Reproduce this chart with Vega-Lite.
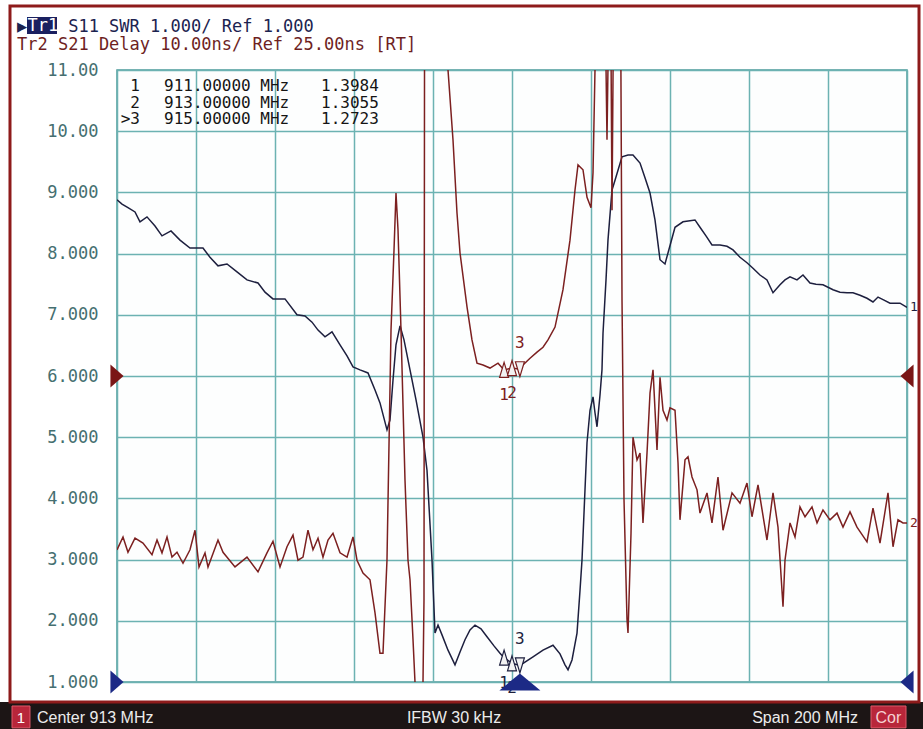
{
  "$schema": "https://vega.github.io/schema/vega-lite/v6.json",
  "width": 790,
  "height": 612,
  "autosize": {"type": "none"},
  "padding": {"left": 117, "top": 70, "right": 16, "bottom": 47},
  "background": "#ffffff",
  "config": {"view": {"stroke": "#4f9a9a", "strokeWidth": 1.5, "fill": "#fdfefe"}},
  "title": {
    "text": "▶\u00a0\u00a0\u00a0\u00a0S11 SWR 1.000/ Ref 1.000",
    "subtitle": "\u00a0Tr2 S21 Delay 10.00ns/ Ref 25.00ns [RT]",
    "anchor": "start", "frame": "group", "dx": -100, "offset": -50,
    "font": "DejaVu Sans Mono", "fontSize": 17, "fontWeight": "normal", "color": "#1c2350",
    "subtitleFont": "DejaVu Sans Mono", "subtitleFontSize": 17, "subtitleColor": "#6e1f1f", "subtitlePadding": 1
  },
  "datasets": {
    "traces": [
      {"trace":"1","freq":813.0,"value":8.88},{"trace":"1","freq":814.27,"value":8.81},{"trace":"1","freq":815.78,"value":8.75},{"trace":"1","freq":817.56,"value":8.68},{"trace":"1","freq":818.82,"value":8.52},{"trace":"1","freq":820.59,"value":8.60},{"trace":"1","freq":822.62,"value":8.45},{"trace":"1","freq":824.39,"value":8.29},{"trace":"1","freq":826.67,"value":8.37},{"trace":"1","freq":828.95,"value":8.22},{"trace":"1","freq":831.48,"value":8.09},{"trace":"1","freq":834.77,"value":8.09},{"trace":"1","freq":836.54,"value":7.94},{"trace":"1","freq":838.57,"value":7.80},{"trace":"1","freq":840.85,"value":7.83},{"trace":"1","freq":843.38,"value":7.70},{"trace":"1","freq":845.91,"value":7.57},{"trace":"1","freq":848.70,"value":7.52},{"trace":"1","freq":850.47,"value":7.37},{"trace":"1","freq":852.49,"value":7.26},{"trace":"1","freq":855.53,"value":7.26},{"trace":"1","freq":858.57,"value":7.00},{"trace":"1","freq":860.59,"value":6.98},{"trace":"1","freq":862.37,"value":6.88},{"trace":"1","freq":863.89,"value":6.75},{"trace":"1","freq":865.66,"value":6.64},{"trace":"1","freq":867.43,"value":6.72},{"trace":"1","freq":869.46,"value":6.51},{"trace":"1","freq":871.23,"value":6.33},{"trace":"1","freq":872.75,"value":6.15},{"trace":"1","freq":874.52,"value":6.10},{"trace":"1","freq":876.54,"value":6.05},{"trace":"1","freq":878.32,"value":5.77},{"trace":"1","freq":879.58,"value":5.56},{"trace":"1","freq":881.35,"value":5.12},{"trace":"1","freq":882.11,"value":5.28},{"trace":"1","freq":882.87,"value":5.93},{"trace":"1","freq":883.63,"value":6.51},{"trace":"1","freq":884.65,"value":6.82},{"trace":"1","freq":885.66,"value":6.59},{"trace":"1","freq":887.18,"value":6.10},{"trace":"1","freq":888.70,"value":5.61},{"trace":"1","freq":890.47,"value":5.00},{"trace":"1","freq":891.48,"value":4.46},{"trace":"1","freq":892.75,"value":2.99},{"trace":"1","freq":893.51,"value":1.80},{"trace":"1","freq":894.27,"value":1.93},{"trace":"1","freq":895.28,"value":1.77},{"trace":"1","freq":896.80,"value":1.52},{"trace":"1","freq":898.57,"value":1.28},{"trace":"1","freq":899.84,"value":1.49},{"trace":"1","freq":901.10,"value":1.69},{"trace":"1","freq":902.37,"value":1.85},{"trace":"1","freq":903.63,"value":1.93},{"trace":"1","freq":905.15,"value":1.87},{"trace":"1","freq":906.67,"value":1.74},{"trace":"1","freq":908.44,"value":1.59},{"trace":"1","freq":909.96,"value":1.47},{"trace":"1","freq":911.0,"value":1.398},{"trace":"1","freq":913.0,"value":1.306},{"trace":"1","freq":915.0,"value":1.272},{"trace":"1","freq":918.32,"value":1.41},{"trace":"1","freq":920.85,"value":1.52},{"trace":"1","freq":923.38,"value":1.60},{"trace":"1","freq":925.15,"value":1.46},{"trace":"1","freq":926.42,"value":1.28},{"trace":"1","freq":927.18,"value":1.20},{"trace":"1","freq":928.19,"value":1.36},{"trace":"1","freq":929.46,"value":1.80},{"trace":"1","freq":930.22,"value":2.50},{"trace":"1","freq":930.72,"value":2.99},{"trace":"1","freq":931.48,"value":4.14},{"trace":"1","freq":931.99,"value":4.91},{"trace":"1","freq":932.75,"value":5.44},{"trace":"1","freq":933.51,"value":5.66},{"trace":"1","freq":934.01,"value":5.40},{"trace":"1","freq":934.52,"value":5.17},{"trace":"1","freq":935.28,"value":5.69},{"trace":"1","freq":935.78,"value":6.10},{"trace":"1","freq":936.04,"value":6.70},{"trace":"1","freq":936.80,"value":7.57},{"trace":"1","freq":937.30,"value":8.22},{"trace":"1","freq":938.32,"value":9.04},{"trace":"1","freq":939.08,"value":9.20},{"trace":"1","freq":940.85,"value":9.58},{"trace":"1","freq":942.37,"value":9.61},{"trace":"1","freq":943.63,"value":9.61},{"trace":"1","freq":945.41,"value":9.48},{"trace":"1","freq":946.67,"value":9.24},{"trace":"1","freq":947.94,"value":8.99},{"trace":"1","freq":949.20,"value":8.55},{"trace":"1","freq":950.47,"value":7.90},{"trace":"1","freq":951.73,"value":7.83},{"trace":"1","freq":952.49,"value":8.01},{"trace":"1","freq":954.27,"value":8.43},{"trace":"1","freq":956.29,"value":8.52},{"trace":"1","freq":959.33,"value":8.55},{"trace":"1","freq":960.59,"value":8.43},{"trace":"1","freq":962.11,"value":8.29},{"trace":"1","freq":963.63,"value":8.14},{"trace":"1","freq":965.66,"value":8.14},{"trace":"1","freq":967.43,"value":8.12},{"trace":"1","freq":968.95,"value":8.06},{"trace":"1","freq":970.72,"value":7.94},{"trace":"1","freq":972.49,"value":7.85},{"trace":"1","freq":974.01,"value":7.76},{"trace":"1","freq":975.78,"value":7.65},{"trace":"1","freq":977.55,"value":7.57},{"trace":"1","freq":979.08,"value":7.36},{"trace":"1","freq":980.85,"value":7.49},{"trace":"1","freq":982.11,"value":7.57},{"trace":"1","freq":983.38,"value":7.62},{"trace":"1","freq":985.15,"value":7.57},{"trace":"1","freq":986.67,"value":7.65},{"trace":"1","freq":988.44,"value":7.52},{"trace":"1","freq":989.96,"value":7.50},{"trace":"1","freq":991.73,"value":7.49},{"trace":"1","freq":994.27,"value":7.41},{"trace":"1","freq":996.04,"value":7.37},{"trace":"1","freq":997.81,"value":7.36},{"trace":"1","freq":999.33,"value":7.36},{"trace":"1","freq":1001.10,"value":7.32},{"trace":"1","freq":1002.87,"value":7.27},{"trace":"1","freq":1004.39,"value":7.21},{"trace":"1","freq":1005.66,"value":7.29},{"trace":"1","freq":1007.18,"value":7.24},{"trace":"1","freq":1008.70,"value":7.19},{"trace":"1","freq":1011.23,"value":7.19},{"trace":"1","freq":1013.0,"value":7.12},
      {"trace":"2","freq":813.0,"value":3.16},{"trace":"2","freq":814.52,"value":3.37},{"trace":"2","freq":815.78,"value":3.12},{"trace":"2","freq":817.56,"value":3.35},{"trace":"2","freq":819.58,"value":3.27},{"trace":"2","freq":821.86,"value":3.08},{"trace":"2","freq":823.13,"value":3.32},{"trace":"2","freq":824.39,"value":3.11},{"trace":"2","freq":825.66,"value":3.37},{"trace":"2","freq":826.92,"value":3.04},{"trace":"2","freq":828.19,"value":3.12},{"trace":"2","freq":829.71,"value":2.94},{"trace":"2","freq":831.48,"value":3.16},{"trace":"2","freq":832.75,"value":3.48},{"trace":"2","freq":833.76,"value":2.88},{"trace":"2","freq":835.28,"value":3.11},{"trace":"2","freq":836.04,"value":2.88},{"trace":"2","freq":838.57,"value":3.32},{"trace":"2","freq":839.84,"value":3.12},{"trace":"2","freq":842.87,"value":2.88},{"trace":"2","freq":845.91,"value":3.04},{"trace":"2","freq":848.70,"value":2.80},{"trace":"2","freq":850.97,"value":3.11},{"trace":"2","freq":852.49,"value":3.30},{"trace":"2","freq":854.27,"value":2.88},{"trace":"2","freq":856.04,"value":3.21},{"trace":"2","freq":857.56,"value":3.40},{"trace":"2","freq":858.82,"value":2.99},{"trace":"2","freq":860.09,"value":3.04},{"trace":"2","freq":861.35,"value":3.48},{"trace":"2","freq":862.62,"value":3.16},{"trace":"2","freq":863.89,"value":3.35},{"trace":"2","freq":865.15,"value":3.04},{"trace":"2","freq":866.42,"value":3.32},{"trace":"2","freq":867.68,"value":3.43},{"trace":"2","freq":869.46,"value":3.11},{"trace":"2","freq":871.23,"value":3.04},{"trace":"2","freq":872.75,"value":3.37},{"trace":"2","freq":873.76,"value":2.99},{"trace":"2","freq":875.28,"value":2.78},{"trace":"2","freq":877.05,"value":2.67},{"trace":"2","freq":878.32,"value":2.13},{"trace":"2","freq":879.58,"value":1.47},{"trace":"2","freq":880.34,"value":1.47},{"trace":"2","freq":881.35,"value":2.99},{"trace":"2","freq":882.37,"value":6.75},{"trace":"2","freq":883.13,"value":8.06},{"trace":"2","freq":883.63,"value":8.99},{"trace":"2","freq":884.14,"value":8.39},{"trace":"2","freq":884.90,"value":6.75},{"trace":"2","freq":885.91,"value":4.30},{"trace":"2","freq":886.67,"value":2.99},{"trace":"2","freq":887.18,"value":2.67},{"trace":"2","freq":887.94,"value":1.69},{"trace":"2","freq":888.44,"value":1.00},{"trace":"2","freq":888.95,"value":0.40},{"trace":"2","freq":889.96,"value":0.40},{"trace":"2","freq":890.47,"value":1.00},{"trace":"2","freq":890.72,"value":2.34},{"trace":"2","freq":890.85,"value":11.0},{"trace":"2","freq":891.0,"value":12.0},{"trace":"2","freq":896.0,"value":12.0},{"trace":"2","freq":896.80,"value":11.0},{"trace":"2","freq":898.06,"value":9.86},{"trace":"2","freq":899.08,"value":8.66},{"trace":"2","freq":899.84,"value":8.01},{"trace":"2","freq":901.61,"value":7.13},{"trace":"2","freq":902.87,"value":6.59},{"trace":"2","freq":904.14,"value":6.21},{"trace":"2","freq":905.66,"value":6.18},{"trace":"2","freq":907.43,"value":6.13},{"trace":"2","freq":909.46,"value":6.21},{"trace":"2","freq":911.0,"value":6.10},{"trace":"2","freq":913.0,"value":6.13},{"trace":"2","freq":915.0,"value":6.11},{"trace":"2","freq":915.78,"value":6.18},{"trace":"2","freq":917.56,"value":6.29},{"trace":"2","freq":919.33,"value":6.39},{"trace":"2","freq":920.85,"value":6.47},{"trace":"2","freq":922.11,"value":6.59},{"trace":"2","freq":923.89,"value":6.80},{"trace":"2","freq":925.91,"value":7.41},{"trace":"2","freq":927.68,"value":8.22},{"trace":"2","freq":928.95,"value":9.04},{"trace":"2","freq":929.71,"value":9.45},{"trace":"2","freq":930.97,"value":9.37},{"trace":"2","freq":931.99,"value":8.92},{"trace":"2","freq":933.0,"value":8.75},{"trace":"2","freq":933.51,"value":9.32},{"trace":"2","freq":934.01,"value":11.0},{"trace":"2","freq":934.3,"value":12.0},{"trace":"2","freq":936.6,"value":12.0},{"trace":"2","freq":937.05,"value":9.86},{"trace":"2","freq":937.5,"value":12.0},{"trace":"2","freq":938.0,"value":12.0},{"trace":"2","freq":938.32,"value":8.71},{"trace":"2","freq":938.7,"value":12.0},{"trace":"2","freq":940.5,"value":12.0},{"trace":"2","freq":940.85,"value":7.24},{"trace":"2","freq":941.36,"value":3.97},{"trace":"2","freq":942.11,"value":2.03},{"trace":"2","freq":942.37,"value":1.80},{"trace":"2","freq":943.13,"value":3.43},{"trace":"2","freq":943.63,"value":5.00},{"trace":"2","freq":944.65,"value":4.63},{"trace":"2","freq":945.41,"value":4.74},{"trace":"2","freq":946.16,"value":3.60},{"trace":"2","freq":947.18,"value":4.74},{"trace":"2","freq":947.94,"value":5.72},{"trace":"2","freq":948.70,"value":6.10},{"trace":"2","freq":949.71,"value":4.79},{"trace":"2","freq":950.47,"value":5.98},{"trace":"2","freq":951.23,"value":5.44},{"trace":"2","freq":952.24,"value":5.28},{"trace":"2","freq":953.0,"value":5.48},{"trace":"2","freq":954.27,"value":5.44},{"trace":"2","freq":955.03,"value":4.58},{"trace":"2","freq":955.53,"value":3.65},{"trace":"2","freq":956.80,"value":4.63},{"trace":"2","freq":957.56,"value":4.68},{"trace":"2","freq":958.57,"value":4.35},{"trace":"2","freq":959.84,"value":4.14},{"trace":"2","freq":960.59,"value":3.76},{"trace":"2","freq":962.37,"value":4.09},{"trace":"2","freq":963.63,"value":3.60},{"trace":"2","freq":965.15,"value":4.35},{"trace":"2","freq":966.42,"value":3.48},{"trace":"2","freq":968.70,"value":4.09},{"trace":"2","freq":970.72,"value":3.92},{"trace":"2","freq":972.49,"value":4.25},{"trace":"2","freq":973.76,"value":3.70},{"trace":"2","freq":975.28,"value":4.22},{"trace":"2","freq":977.55,"value":3.32},{"trace":"2","freq":979.08,"value":4.09},{"trace":"2","freq":980.34,"value":3.53},{"trace":"2","freq":981.61,"value":2.23},{"trace":"2","freq":982.11,"value":2.99},{"trace":"2","freq":983.38,"value":3.60},{"trace":"2","freq":984.65,"value":3.37},{"trace":"2","freq":985.91,"value":3.86},{"trace":"2","freq":987.18,"value":3.70},{"trace":"2","freq":988.95,"value":3.86},{"trace":"2","freq":990.22,"value":3.60},{"trace":"2","freq":991.73,"value":3.81},{"trace":"2","freq":993.51,"value":3.65},{"trace":"2","freq":995.28,"value":3.76},{"trace":"2","freq":996.80,"value":3.53},{"trace":"2","freq":998.57,"value":3.78},{"trace":"2","freq":1000.34,"value":3.53},{"trace":"2","freq":1002.87,"value":3.29},{"trace":"2","freq":1004.39,"value":3.84},{"trace":"2","freq":1006.16,"value":3.27},{"trace":"2","freq":1008.19,"value":4.09},{"trace":"2","freq":1009.46,"value":3.21},{"trace":"2","freq":1010.72,"value":3.65},{"trace":"2","freq":1011.98,"value":3.60},{"trace":"2","freq":1013.0,"value":3.60}
    ],
    "markers": [
      {"marker":"1","trace":"1","freq":911,"value":1.3984,"active":false},
      {"marker":"2","trace":"1","freq":913,"value":1.3055,"active":false},
      {"marker":"3","trace":"1","freq":915,"value":1.2723,"active":true},
      {"marker":"1","trace":"2","freq":911,"value":6.10,"active":false},
      {"marker":"2","trace":"2","freq":913,"value":6.13,"active":false},
      {"marker":"3","trace":"2","freq":915,"value":6.11,"active":true}
    ],
    "refs": [
      {"trace":"1","ref":1.0},
      {"trace":"2","ref":6.0}
    ]
  },
  "layer": [
    {
      "layer": [
        {
          "data": {"name": "traces"},
          "mark": {"type": "line", "clip": true, "strokeWidth": 1.5},
          "encoding": {
            "x": {
              "field": "freq", "type": "quantitative",
              "scale": {"domain": [813, 1013], "nice": false, "zero": false},
              "axis": {"values": [813, 833, 853, 873, 893, 913, 933, 953, 973, 993, 1013], "labels": false, "ticks": false, "domain": false, "grid": true, "gridColor": "#6cb2b2", "gridWidth": 1.5, "title": null}
            },
            "y": {
              "field": "value", "type": "quantitative",
              "scale": {"domain": [1, 11], "nice": false, "zero": false},
              "axis": {"values": [1, 2, 3, 4, 5, 6, 7, 8, 9, 10, 11], "ticks": false, "domain": false, "grid": true, "gridColor": "#6cb2b2", "gridWidth": 1.5, "title": null, "labelOverlap": false, "labelExpr": "datum.value >= 10 ? format(datum.value, '.2f') : format(datum.value, '.3f')", "labelFont": "DejaVu Sans Mono", "labelFontSize": 17, "labelColor": "#456f70", "labelPadding": 19}
            },
            "color": {"field": "trace", "type": "nominal", "scale": {"domain": ["1", "2"], "range": ["#1d1f3e", "#7c2020"]}, "legend": null}
          }
        },
        {
          "data": {"values": [{}]},
          "mark": {"type": "rect", "fill": "#1c1515", "clip": false},
          "encoding": {
            "x": {"datum": 783.38, "type": "quantitative"},
            "x2": {"datum": 1017.05},
            "y": {"datum": 0.673, "type": "quantitative"},
            "y2": {"datum": 0.232}
          }
        },
        {
          "data": {"values": [{}]},
          "mark": {"type": "rect", "fillOpacity": 0, "stroke": "#8e1b1b", "strokeWidth": 3, "clip": false},
          "encoding": {
            "x": {"datum": 785.91, "type": "quantitative"},
            "x2": {"datum": 1016.04},
            "y": {"datum": 12.046, "type": "quantitative"},
            "y2": {"datum": 0.673}
          }
        },
        {
          "data": {"values": [{}]},
          "mark": {"type": "rect", "fill": "#1a2060", "clip": false},
          "encoding": {
            "x": {"datum": 790.22, "type": "quantitative"},
            "x2": {"datum": 797.81},
            "y": {"datum": 11.866, "type": "quantitative"},
            "y2": {"datum": 11.588}
          }
        },
        {
          "data": {"values": [{"label": "Tr1"}]},
          "mark": {"type": "text", "align": "left", "baseline": "middle", "font": "DejaVu Sans Mono", "fontSize": 17, "color": "#ffffff", "clip": false},
          "encoding": {
            "x": {"datum": 790.34, "type": "quantitative"},
            "y": {"datum": 11.727, "type": "quantitative"},
            "text": {"field": "label"}
          }
        },
        {
          "data": {"values": [{}]},
          "mark": {"type": "rect", "fill": "#b8263a", "stroke": "#e05a6a", "strokeWidth": 1, "clip": false},
          "encoding": {
            "x": {"datum": 786.42, "type": "quantitative"},
            "x2": {"datum": 790.97},
            "y": {"datum": 0.608, "type": "quantitative"},
            "y2": {"datum": 0.25}
          }
        },
        {
          "data": {"values": [{}]},
          "mark": {"type": "rect", "fill": "#b8263a", "stroke": "#e05a6a", "strokeWidth": 1, "clip": false},
          "encoding": {
            "x": {"datum": 1003.89, "type": "quantitative"},
            "x2": {"datum": 1012.75},
            "y": {"datum": 0.608, "type": "quantitative"},
            "y2": {"datum": 0.25}
          }
        },
        {
          "data": {"values": [{"label": "1"}]},
          "mark": {"type": "text", "align": "center", "baseline": "middle", "font": "Liberation Sans", "fontSize": 15, "color": "#ffffff", "clip": false},
          "encoding": {
            "x": {"datum": 788.70, "type": "quantitative"},
            "y": {"datum": 0.41, "type": "quantitative"},
            "text": {"field": "label"}
          }
        },
        {
          "data": {"values": [{"label": "Center 913 MHz"}]},
          "mark": {"type": "text", "align": "left", "baseline": "middle", "font": "Liberation Sans", "fontSize": 16, "color": "#ececec", "clip": false},
          "encoding": {
            "x": {"datum": 792.75, "type": "quantitative"},
            "y": {"datum": 0.41, "type": "quantitative"},
            "text": {"field": "label"}
          }
        },
        {
          "data": {"values": [{"label": "IFBW 30 kHz"}]},
          "mark": {"type": "text", "align": "center", "baseline": "middle", "font": "Liberation Sans", "fontSize": 16, "color": "#ececec", "clip": false},
          "encoding": {
            "x": {"datum": 898.32, "type": "quantitative"},
            "y": {"datum": 0.41, "type": "quantitative"},
            "text": {"field": "label"}
          }
        },
        {
          "data": {"values": [{"label": "Span 200 MHz"}]},
          "mark": {"type": "text", "align": "right", "baseline": "middle", "font": "Liberation Sans", "fontSize": 16, "color": "#ececec", "clip": false},
          "encoding": {
            "x": {"datum": 1000.59, "type": "quantitative"},
            "y": {"datum": 0.41, "type": "quantitative"},
            "text": {"field": "label"}
          }
        },
        {
          "data": {"values": [{"label": "Cor"}]},
          "mark": {"type": "text", "align": "center", "baseline": "middle", "font": "Liberation Sans", "fontSize": 16, "color": "#f6d2d2", "clip": false},
          "encoding": {
            "x": {"datum": 1008.3, "type": "quantitative"},
            "y": {"datum": 0.41, "type": "quantitative"},
            "text": {"field": "label"}
          }
        },
        {
          "data": {"name": "traces"},
          "transform": [{"filter": "datum.freq >= 1013"}],
          "mark": {"type": "text", "align": "left", "baseline": "middle", "dx": 3, "font": "DejaVu Sans Mono", "fontSize": 13, "clip": false},
          "encoding": {
            "x": {"field": "freq", "type": "quantitative"},
            "y": {"field": "value", "type": "quantitative"},
            "text": {"field": "trace"},
            "color": {"field": "trace", "type": "nominal", "legend": null}
          }
        },
        {
          "data": {"name": "markers"},
          "transform": [{"filter": "!datum.active"}],
          "mark": {"type": "point", "shape": "M0,-1L0.6,1L-0.6,1Z", "size": 225, "filled": true, "fill": "#f2f2f2", "opacity": 1, "strokeWidth": 1.2, "dy": 7.5},
          "encoding": {
            "x": {"field": "freq", "type": "quantitative"},
            "y": {"field": "value", "type": "quantitative"},
            "stroke": {"condition": {"test": "datum.trace == '1'", "value": "#1d1f3e"}, "value": "#7c2020"}
          }
        },
        {
          "data": {"name": "markers"},
          "transform": [{"filter": "datum.active"}],
          "mark": {"type": "point", "shape": "M-0.6,-1L0.6,-1L0,1Z", "size": 225, "filled": true, "fill": "#f2f2f2", "opacity": 1, "strokeWidth": 1.2, "dy": -7.5},
          "encoding": {
            "x": {"field": "freq", "type": "quantitative"},
            "y": {"field": "value", "type": "quantitative"},
            "stroke": {"condition": {"test": "datum.trace == '1'", "value": "#1d1f3e"}, "value": "#7c2020"}
          }
        },
        {
          "data": {"name": "markers"},
          "transform": [{"filter": "!datum.active"}],
          "mark": {"type": "text", "align": "center", "baseline": "middle", "dy": 25, "font": "DejaVu Sans Mono", "fontSize": 16},
          "encoding": {
            "x": {"field": "freq", "type": "quantitative"},
            "y": {"field": "value", "type": "quantitative"},
            "text": {"field": "marker"},
            "color": {"field": "trace", "type": "nominal", "legend": null}
          }
        },
        {
          "data": {"name": "markers"},
          "transform": [{"filter": "datum.active"}],
          "mark": {"type": "text", "align": "center", "baseline": "middle", "dy": -26, "font": "DejaVu Sans Mono", "fontSize": 16},
          "encoding": {
            "x": {"field": "freq", "type": "quantitative"},
            "y": {"field": "value", "type": "quantitative"},
            "text": {"field": "marker"},
            "color": {"field": "trace", "type": "nominal", "legend": null}
          }
        },
        {
          "data": {"name": "markers"},
          "transform": [{"filter": "datum.trace == '1' && datum.active"}],
          "mark": {"type": "point", "shape": "M-1,0.41L0,-0.41L1,0.41Z", "size": 1681, "filled": true, "fill": "#1c2a86", "opacity": 1, "strokeWidth": 0, "dy": 4.5, "clip": false},
          "encoding": {
            "x": {"field": "freq", "type": "quantitative"},
            "y": {"datum": 1, "type": "quantitative"}
          }
        },
        {
          "data": {"name": "refs"},
          "mark": {"type": "point", "shape": "M-0.57,-1L0.57,0L-0.57,1Z", "size": 529, "filled": true, "opacity": 1, "strokeWidth": 0, "dx": -6.5, "clip": false},
          "encoding": {
            "x": {"datum": 813, "type": "quantitative"},
            "y": {"field": "ref", "type": "quantitative"},
            "fill": {"condition": {"test": "datum.trace == '1'", "value": "#1c2a86"}, "value": "#7a1616"}
          }
        },
        {
          "data": {"name": "refs"},
          "mark": {"type": "point", "shape": "M0.57,-1L-0.57,0L0.57,1Z", "size": 529, "filled": true, "opacity": 1, "strokeWidth": 0, "dx": 6.5, "clip": false},
          "encoding": {
            "x": {"datum": 1013, "type": "quantitative"},
            "y": {"field": "ref", "type": "quantitative"},
            "fill": {"condition": {"test": "datum.trace == '1'", "value": "#1c2a86"}, "value": "#7a1616"}
          }
        }
      ]
    },
    {
      "data": {"name": "markers"},
      "transform": [
        {"filter": "datum.trace == '1'"},
        {"calculate": "(datum.active ? '>' : '') + datum.marker", "as": "id"},
        {"calculate": "format(datum.freq, '.5f') + ' MHz'", "as": "ftxt"},
        {"calculate": "format(datum.value, '.4f')", "as": "vtxt"}
      ],
      "encoding": {
        "y": {"field": "marker", "type": "ordinal", "scale": {"type": "point", "range": [16, 49], "padding": 0}, "axis": null}
      },
      "layer": [
        {
          "mark": {"type": "text", "align": "right", "baseline": "middle", "font": "DejaVu Sans Mono", "fontSize": 16, "color": "#151515"},
          "encoding": {"x": {"datum": 818.82, "type": "quantitative"}, "text": {"field": "id"}}
        },
        {
          "mark": {"type": "text", "align": "left", "baseline": "middle", "font": "DejaVu Sans Mono", "fontSize": 16, "color": "#151515"},
          "encoding": {"x": {"datum": 824.90, "type": "quantitative"}, "text": {"field": "ftxt"}}
        },
        {
          "mark": {"type": "text", "align": "left", "baseline": "middle", "font": "DejaVu Sans Mono", "fontSize": 16, "color": "#151515"},
          "encoding": {"x": {"datum": 864.65, "type": "quantitative"}, "text": {"field": "vtxt"}}
        }
      ]
    }
  ],
  "resolve": {"scale": {"y": "independent"}}
}
